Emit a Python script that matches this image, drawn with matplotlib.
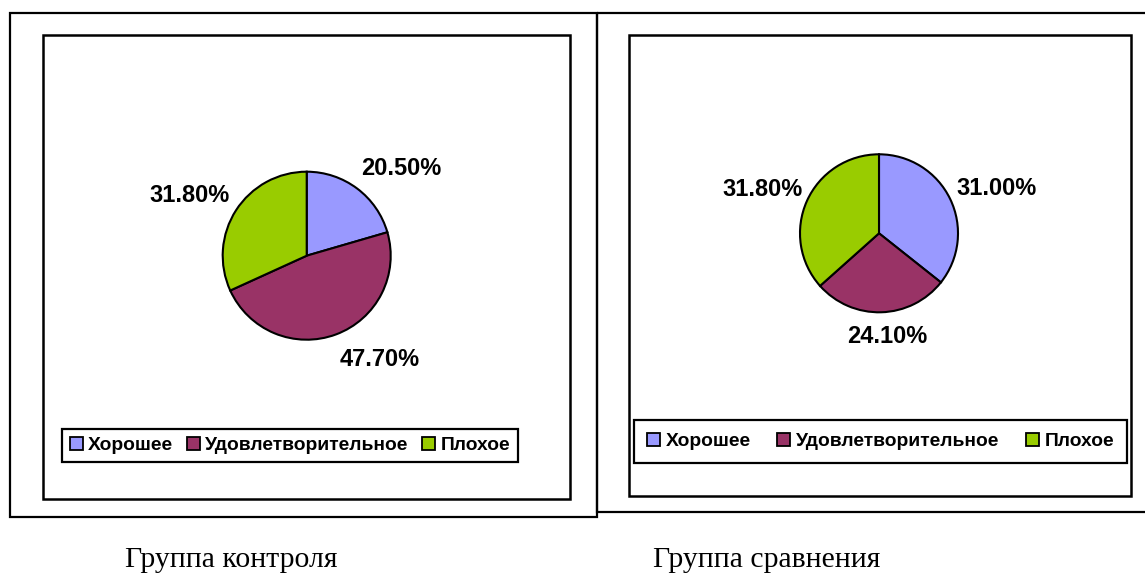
import matplotlib
matplotlib.use("Agg")
import matplotlib.pyplot as plt
from matplotlib.patches import Rectangle, Patch

categories = ["Хорошее", "Удовлетворительное", "Плохое"]
control_values = [20.5, 47.7, 31.8]
comparison_values = [31.0, 24.1, 31.8]
captions = ["Группа контроля", "Группа сравнения"]
colors = ["#9999FF", "#993366", "#99CC00"]

W, H = 1145, 574
fig = plt.figure(figsize=(W / 100, H / 100), dpi=100)
fig.patch.set_facecolor("white")

bg = fig.add_axes([0, 0, 1, 1])
bg.set_xlim(0, W)
bg.set_ylim(H, 0)
bg.axis("off")

# frames (outer and plot area)
def frame(x0, y0, x1, y1, lw):
    bg.add_patch(Rectangle((x0, y0), x1 - x0, y1 - y0, fill=False,
                           edgecolor="black", linewidth=lw))

frame(10, 12.5, 597, 516.5, 1.6)
frame(43, 35, 570, 499, 1.8)
frame(597, 12.5, 1150, 512, 1.6)
frame(629, 35, 1131, 496, 1.8)

label_font = dict(family=["Liberation Sans", "DejaVu Sans"], fontweight="bold")


def draw_pie(values, cx, cy, r, label_offsets):
    half = 2.2 * r
    ax = fig.add_axes([(cx - half) / W, 1 - (cy + half) / H, 2 * half / W, 2 * half / H])
    ax.pie(values, colors=colors, startangle=90, counterclock=False, radius=1,
           wedgeprops=dict(edgecolor="black", linewidth=1.5))
    ax.set_xlim(-2.2, 2.2)
    ax.set_ylim(-2.2, 2.2)
    ax.set_aspect("equal")
    ax.axis("off")
    for v, (dx, dy) in zip(values, label_offsets):
        ax.text(dx, dy, f"{v:.2f}%", ha="center", va="center", fontsize=17, **label_font)
    return ax


draw_pie(control_values, 306.7, 255.7, 84,
         [(1.13, 1.04), (0.87, -1.24), (-1.39, 0.72)])
draw_pie(comparison_values, 879, 233.3, 79,
         [(1.49, 0.57), (0.10, -1.31), (-1.48, 0.55)])

handles = [Patch(facecolor=c, edgecolor="black", linewidth=1.3) for c in colors]


def draw_legend(cx, cy, colspace, pad):
    leg = fig.legend(handles, categories, loc="center",
                     bbox_to_anchor=(cx / W, 1 - cy / H), bbox_transform=fig.transFigure,
                     ncol=3, fancybox=False, framealpha=1, shadow=False,
                     prop=dict(family=["Liberation Sans", "DejaVu Sans"], weight="bold", size=13.9),
                     handlelength=0.68, handleheight=0.68, handletextpad=0.28,
                     columnspacing=colspace, borderpad=pad)
    fr = leg.get_frame()
    fr.set_edgecolor("black")
    fr.set_linewidth(1.6)
    return leg


draw_legend(290, 445.4, 0.7, 0.42)
draw_legend(880.5, 441.5, 1.38, 0.66)

cap_font = dict(family=["Liberation Serif", "DejaVu Serif"], fontsize=21.4)
bg.text(231, 567, captions[0], ha="center", va="baseline", **cap_font)
bg.text(767, 567, captions[1], ha="center", va="baseline", **cap_font)

fig.savefig("out.png", dpi=100, facecolor="white")
